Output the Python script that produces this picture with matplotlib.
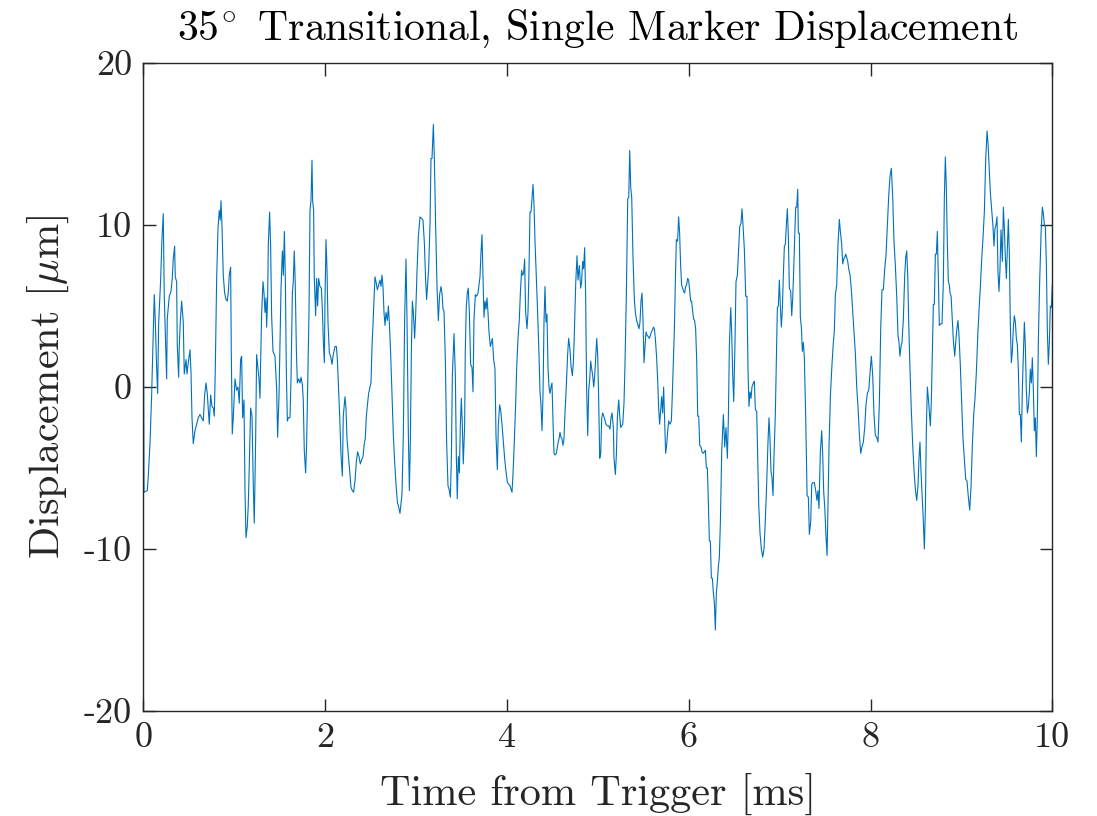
import numpy as np
import matplotlib
matplotlib.use("Agg")
import matplotlib.pyplot as plt

# Trace, split in quarters (time in ms, displacement in um)
t_q1 = [0.000, 0.008, 0.044, 0.055, 0.074, 0.092, 0.110, 0.121, 0.132, 0.147, 0.158, 0.169, 0.191, 0.206,
        0.220, 0.231, 0.250, 0.257, 0.264, 0.286, 0.305, 0.319, 0.330, 0.345, 0.352, 0.367, 0.374, 0.389,
        0.396, 0.407, 0.422, 0.440, 0.451, 0.470, 0.481, 0.495, 0.514, 0.525, 0.536, 0.550, 0.569, 0.587,
        0.605, 0.624, 0.642, 0.660, 0.675, 0.690, 0.704, 0.726, 0.741, 0.756, 0.770, 0.781, 0.792, 0.807,
        0.822, 0.836, 0.847, 0.855, 0.866, 0.880, 0.895, 0.910, 0.924, 0.935, 0.946, 0.961, 0.968, 0.979,
        0.990, 1.009, 1.027, 1.042, 1.056, 1.071, 1.082, 1.093, 1.108, 1.119, 1.130, 1.144, 1.155, 1.166,
        1.181, 1.196, 1.210, 1.221, 1.236, 1.247, 1.262, 1.273, 1.284, 1.288, 1.302, 1.317, 1.328, 1.339,
        1.350, 1.357, 1.368, 1.376, 1.390, 1.401, 1.412, 1.427, 1.449, 1.467, 1.478, 1.493, 1.504, 1.515,
        1.530, 1.541, 1.552, 1.563, 1.574, 1.585, 1.596, 1.614, 1.625, 1.640, 1.650, 1.661, 1.672, 1.684,
        1.695, 1.709, 1.724, 1.735, 1.750, 1.760, 1.771, 1.786, 1.797, 1.808, 1.823, 1.834, 1.845, 1.856,
        1.863, 1.874, 1.881, 1.896, 1.907, 1.918, 1.929, 1.944, 1.959, 1.970, 1.981, 1.992, 1.999, 2.010,
        2.021, 2.032, 2.047, 2.061, 2.076, 2.087, 2.098, 2.109, 2.124, 2.135, 2.146, 2.160, 2.175, 2.190,
        2.200, 2.219, 2.230, 2.241, 2.256, 2.270, 2.285, 2.300, 2.314, 2.329, 2.344, 2.358, 2.373, 2.388,
        2.402, 2.417, 2.431, 2.442, 2.453, 2.464, 2.479, 2.494]
d_q1 = [8.6, -6.5, -6.4, -5.5, -3.5, -0.5, 3.5, 5.7, 4.1, 1.2, -0.4, 3.9, 6.6, 9.2,
        10.7, 5.6, 1.8, 0.5, 4.2, 5.6, 5.9, 6.7, 7.9, 8.7, 6.8, 6.5, 2.6, 0.6,
        2.5, 4.0, 5.3, 4.0, 0.8, 1.7, 0.8, 1.5, 2.3, 0.9, -1.9, -3.5, -2.7, -2.3,
        -1.9, -1.7, -1.9, -2.1, -0.5, 0.25, -0.4, -2.3, -0.5, -1.2, -1.3, -1.8, 1.0, 6.6,
        9.8, 10.9, 10.3, 11.5, 9.9, 6.9, 5.8, 5.4, 5.3, 5.8, 6.9, 7.4, 2.3, -2.9,
        -1.9, 0.5, -0.2, 0.0, -1.0, 1.7, 1.9, -1.9, -0.8, -6.4, -9.3, -8.6, -7.3, -4.9,
        -1.3, -1.8, -6.0, -8.4, -3.3, 2.0, 1.1, 0.5, -0.7, 0.7, 4.5, 6.5, 5.8, 4.6,
        5.5, 3.7, 5.5, 8.9, 10.8, 8.7, 4.4, 2.2, 1.9, -0.1, -3.1, -0.6, 2.8, 6.0,
        8.4, 6.9, 9.6, 6.6, 0.9, -2.1, -1.9, -1.9, 0.5, 5.8, 6.5, 8.4, 6.3, 2.3,
        0.25, 0.5, 0.25, 0.6, 0.15, -0.8, -3.9, -5.3, -3.5, -0.2, 4.6, 10.9, 11.5, 14.0,
        11.5, 10.9, 6.8, 4.4, 6.7, 5.0, 6.7, 6.2, 6.1, 4.8, 2.8, 1.5, 5.3, 9.1,
        7.3, 4.0, 2.1, 1.9, 1.4, 1.9, 2.2, 2.5, 2.5, 1.7, 0.25, -1.7, -4.2, -5.5,
        -1.8, -0.6, -1.3, -3.2, -4.2, -5.2, -6.2, -6.4, -6.5, -5.8, -4.6, -4.0, -4.3, -4.75,
        -4.5, -4.3, -3.5, -3.2, -1.9, -1.2, -0.4, 0.0]

t_q2 = [2.505, 2.516, 2.527, 2.538, 2.549, 2.560, 2.575, 2.589, 2.604, 2.615, 2.626, 2.637, 2.648, 2.659,
        2.670, 2.685, 2.696, 2.707, 2.721, 2.736, 2.751, 2.765, 2.780, 2.795, 2.809, 2.824, 2.835, 2.846,
        2.861, 2.875, 2.890, 2.901, 2.916, 2.927, 2.938, 2.949, 2.960, 2.971, 2.985, 2.996, 3.011, 3.026,
        3.044, 3.062, 3.077, 3.092, 3.106, 3.117, 3.128, 3.139, 3.154, 3.165, 3.176, 3.191, 3.202, 3.216,
        3.231, 3.246, 3.260, 3.275, 3.286, 3.297, 3.308, 3.323, 3.337, 3.352, 3.367, 3.378, 3.389, 3.400,
        3.418, 3.433, 3.444, 3.454, 3.466, 3.477, 3.488, 3.499, 3.510, 3.520, 3.535, 3.542, 3.553, 3.564,
        3.575, 3.587, 3.601, 3.616, 3.627, 3.638, 3.653, 3.667, 3.682, 3.693, 3.704, 3.715, 3.726, 3.737,
        3.748, 3.759, 3.770, 3.781, 3.792, 3.803, 3.818, 3.829, 3.840, 3.854, 3.869, 3.880, 3.895, 3.906,
        3.920, 3.931, 3.946, 3.961, 3.975, 3.990, 4.005, 4.019, 4.034, 4.045, 4.056, 4.067, 4.082, 4.096,
        4.107, 4.122, 4.137, 4.148, 4.162, 4.173, 4.184, 4.195, 4.206, 4.221, 4.232, 4.243, 4.254, 4.265,
        4.276, 4.287, 4.298, 4.309, 4.324, 4.338, 4.353, 4.364, 4.375, 4.386, 4.397, 4.408, 4.419, 4.430,
        4.441, 4.452, 4.463, 4.474, 4.485, 4.496, 4.507, 4.518, 4.529, 4.544, 4.558, 4.573, 4.584, 4.595,
        4.606, 4.617, 4.628, 4.639, 4.653, 4.668, 4.679, 4.694, 4.705, 4.720, 4.731, 4.742, 4.757, 4.771,
        4.782, 4.797, 4.811, 4.822, 4.833, 4.844, 4.855, 4.866, 4.877, 4.889, 4.900, 4.911, 4.922, 4.933,
        4.944, 4.955, 4.966, 4.977, 4.988, 4.999]
d_q2 = [0.25, 2.5, 3.8, 5.4, 6.8, 6.5, 6.0, 6.3, 6.6, 6.2, 6.9, 6.2, 4.6, 3.8,
        4.6, 4.1, 5.0, 4.0, 2.1, -0.5, -3.0, -4.6, -6.0, -7.1, -7.4, -7.8, -7.2, -6.6,
        -2.8, 4.2, 7.9, 4.2, -2.9, -6.4, -3.4, 2.2, 5.3, 4.6, 3.0, 4.4, 7.1, 9.3,
        10.5, 10.4, 10.3, 8.9, 6.6, 5.4, 6.3, 7.3, 10.0, 14.1, 14.1, 16.2, 14.1, 10.0,
        6.2, 4.1, 5.7, 6.2, 5.8, 4.8, 4.7, 1.7, -3.4, -6.1, -6.4, -6.8, -4.4, 0.7,
        3.3, 0.7, -4.3, -6.9, -4.3, -5.3, -2.3, -0.7, -2.4, -4.75, -2.4, 2.2, 4.9, 5.8,
        6.1, 4.6, 1.4, 1.2, -0.3, 4.2, 5.7, 5.6, 5.8, 6.3, 6.8, 8.3, 9.4, 6.9,
        4.3, 5.3, 4.8, 5.5, 4.6, 3.4, 2.5, 2.75, 3.0, 1.7, 1.1, -3.0, -5.1, -2.3,
        -1.1, -1.4, -2.3, -3.4, -4.4, -5.2, -5.9, -6.0, -6.1, -6.3, -6.5, -5.4, -3.3, -1.1,
        1.1, 3.0, 4.2, 5.8, 7.2, 6.9, 7.0, 7.9, 4.6, 3.6, 4.6, 7.2, 10.8, 10.8,
        11.6, 12.5, 11.3, 9.0, 6.7, 4.6, 2.0, -0.3, -1.1, -2.7, -0.5, 4.0, 6.2, 4.0,
        4.5, 1.2, 0.0, -0.4, 0.0, 0.25, -2.1, -4.1, -4.2, -4.1, -3.6, -3.2, -2.8, -3.1,
        -3.2, -3.6, -3.2, -1.6, 0.0, 2.0, 3.0, 2.3, 1.3, 0.7, 1.5, 3.3, 6.4, 8.1,
        6.6, 7.5, 6.1, 6.5, 7.75, 7.3, 8.6, 5.7, -0.1, -3.0, -0.2, 0.5, 1.6, 1.1,
        0.7, 0.0, 0.7, 1.9, 3.0, 1.9]

t_q3 = [5.010, 5.021, 5.032, 5.043, 5.054, 5.065, 5.076, 5.090, 5.105, 5.120, 5.134, 5.145, 5.156, 5.171,
        5.178, 5.193, 5.204, 5.215, 5.230, 5.241, 5.252, 5.263, 5.274, 5.288, 5.299, 5.314, 5.329, 5.340,
        5.351, 5.362, 5.373, 5.387, 5.402, 5.413, 5.427, 5.442, 5.453, 5.464, 5.475, 5.486, 5.497, 5.508,
        5.519, 5.530, 5.541, 5.556, 5.567, 5.578, 5.589, 5.600, 5.611, 5.622, 5.633, 5.647, 5.658, 5.669,
        5.680, 5.691, 5.702, 5.713, 5.724, 5.735, 5.746, 5.757, 5.769, 5.780, 5.794, 5.809, 5.820, 5.831,
        5.842, 5.853, 5.864, 5.878, 5.889, 5.900, 5.911, 5.922, 5.933, 5.944, 5.955, 5.966, 5.977, 5.988,
        5.999, 6.010, 6.021, 6.032, 6.043, 6.054, 6.065, 6.076, 6.088, 6.099, 6.110, 6.121, 6.135, 6.146,
        6.161, 6.172, 6.183, 6.194, 6.205, 6.216, 6.227, 6.238, 6.249, 6.260, 6.271, 6.282, 6.293, 6.304,
        6.315, 6.326, 6.337, 6.348, 6.363, 6.381, 6.396, 6.410, 6.425, 6.436, 6.447, 6.462, 6.473, 6.484,
        6.495, 6.509, 6.520, 6.535, 6.546, 6.561, 6.575, 6.586, 6.597, 6.612, 6.627, 6.641, 6.652, 6.663,
        6.674, 6.685, 6.696, 6.711, 6.722, 6.733, 6.748, 6.759, 6.770, 6.784, 6.799, 6.814, 6.828, 6.843,
        6.858, 6.872, 6.883, 6.894, 6.905, 6.916, 6.927, 6.938, 6.953, 6.964, 6.975, 6.986, 6.997, 7.008,
        7.019, 7.030, 7.041, 7.052, 7.063, 7.074, 7.085, 7.096, 7.107, 7.122, 7.133, 7.144, 7.155, 7.166,
        7.177, 7.188, 7.199, 7.206, 7.217, 7.228, 7.239, 7.250, 7.261, 7.272, 7.287, 7.302, 7.316, 7.327,
        7.342, 7.353, 7.367, 7.382, 7.397, 7.411, 7.422, 7.433, 7.448, 7.463, 7.474, 7.485]
d_q3 = [-0.9, -4.4, -4.1, -1.9, -1.6, -1.8, -2.0, -2.3, -2.4, -2.4, -2.6, -1.9, -1.6, -2.5,
        -4.4, -5.4, -4.2, -1.9, -0.8, -1.8, -2.5, -2.4, -2.3, -1.0, 1.4, 5.7, 11.6, 11.7,
        14.6, 12.3, 11.7, 8.0, 5.4, 4.6, 4.1, 3.8, 3.6, 4.0, 5.3, 5.8, 4.2, 1.5,
        2.5, 3.4, 3.2, 3.1, 3.0, 3.2, 3.4, 3.5, 3.7, 3.6, 3.0, 1.8, 0.5, -1.3,
        -2.3, -1.4, -0.6, -1.6, 0.0, -2.0, -4.1, -3.6, -2.7, -2.1, -2.3, -2.1, -0.4, 1.6,
        3.5, 6.5, 9.1, 9.0, 10.5, 9.5, 7.5, 6.3, 6.1, 5.9, 5.8, 6.2, 6.3, 6.7,
        6.6, 6.0, 5.3, 5.3, 4.7, 4.2, 4.1, 3.6, 1.6, -1.8, -1.8, -3.6, -3.7, -4.0,
        -4.1, -4.0, -3.9, -5.0, -5.0, -7.1, -9.5, -9.5, -11.8, -11.8, -12.7, -13.3, -15.0, -12.7,
        -12.0, -11.1, -10.5, -8.4, -4.0, -1.7, -3.7, -2.5, -4.4, -2.0, 2.5, 4.9, 3.3, 0.7,
        -0.9, 2.75, 6.5, 6.9, 8.2, 9.9, 10.1, 11.0, 10.0, 8.5, 5.6, 5.6, 1.1, -1.2,
        -0.3, -0.7, 0.0, 0.25, 0.35, -1.4, -1.5, -4.5, -7.25, -9.0, -10.0, -10.5, -10.0, -8.2,
        -5.9, -3.4, -1.9, -3.2, -5.2, -5.6, -6.7, -4.3, -1.6, 1.7, 4.9, 5.0, 6.6, 5.0,
        3.7, 4.8, 6.9, 8.7, 8.8, 10.0, 11.0, 9.3, 6.1, 5.9, 4.4, 5.5, 7.25, 9.3,
        11.1, 11.1, 12.2, 9.5, 9.5, 4.3, 3.7, 2.2, 2.75, 1.8, -1.9, -6.7, -6.8, -9.1,
        -8.3, -6.0, -5.9, -5.9, -6.4, -7.0, -6.4, -7.5, -4.0, -2.7, -4.2, -6.5]

t_q4 = [7.496, 7.511, 7.522, 7.529, 7.544, 7.559, 7.573, 7.588, 7.602, 7.613, 7.628, 7.642, 7.657, 7.668,
        7.683, 7.694, 7.705, 7.716, 7.727, 7.738, 7.749, 7.760, 7.775, 7.789, 7.804, 7.818, 7.833, 7.848,
        7.862, 7.877, 7.892, 7.906, 7.921, 7.936, 7.950, 7.965, 7.980, 7.994, 8.009, 8.024, 8.038, 8.053,
        8.068, 8.082, 8.097, 8.112, 8.126, 8.141, 8.156, 8.170, 8.185, 8.200, 8.214, 8.229, 8.244, 8.258,
        8.273, 8.288, 8.302, 8.313, 8.324, 8.335, 8.346, 8.361, 8.376, 8.387, 8.398, 8.409, 8.420, 8.434,
        8.449, 8.464, 8.478, 8.493, 8.508, 8.522, 8.533, 8.544, 8.555, 8.566, 8.581, 8.592, 8.603, 8.614,
        8.625, 8.636, 8.647, 8.658, 8.669, 8.680, 8.691, 8.702, 8.713, 8.724, 8.735, 8.746, 8.757, 8.772,
        8.786, 8.801, 8.812, 8.823, 8.834, 8.845, 8.856, 8.867, 8.875, 8.886, 8.897, 8.911, 8.926, 8.937,
        8.948, 8.962, 8.973, 8.988, 9.003, 9.017, 9.032, 9.047, 9.061, 9.076, 9.091, 9.105, 9.120, 9.135,
        9.149, 9.164, 9.179, 9.193, 9.208, 9.223, 9.237, 9.252, 9.267, 9.282, 9.293, 9.303, 9.318, 9.333,
        9.347, 9.358, 9.369, 9.380, 9.391, 9.402, 9.413, 9.424, 9.435, 9.450, 9.461, 9.472, 9.483, 9.494,
        9.505, 9.516, 9.527, 9.538, 9.549, 9.560, 9.571, 9.582, 9.593, 9.604, 9.615, 9.626, 9.637, 9.648,
        9.659, 9.670, 9.681, 9.692, 9.703, 9.714, 9.725, 9.736, 9.747, 9.758, 9.769, 9.780, 9.791, 9.802,
        9.813, 9.824, 9.835, 9.846, 9.861, 9.876, 9.890, 9.901, 9.912, 9.923, 9.934, 9.945, 9.956, 9.967,
        9.978, 9.989, 10.000]
d_q4 = [-7.4, -9.3, -10.4, -8.1, -3.5, -0.5, 1.1, 2.5, 3.5, 5.7, 6.3, 8.8, 10.35, 9.6,
        8.8, 7.6, 7.9, 8.0, 8.2, 8.0, 7.75, 7.3, 6.9, 6.0, 4.6, 3.4, 2.1, 0.0,
        -1.2, -2.9, -4.1, -3.7, -3.4, -2.5, -1.1, -0.4, -0.2, 0.8, 1.9, 0.7, -1.7, -3.0,
        -3.1, -3.4, -1.0, 3.6, 6.0, 6.0, 7.3, 8.1, 9.9, 11.8, 13.0, 13.5, 11.7, 9.0,
        7.5, 5.6, 3.2, 2.75, 1.9, 2.5, 2.75, 4.2, 6.9, 8.0, 8.4, 6.9, 3.9, 1.1,
        -1.5, -3.6, -5.1, -6.3, -7.0, -6.1, -4.4, -3.4, -5.2, -6.5, -8.3, -10.0, -7.6, -2.6,
        0.0, -0.7, -1.6, -2.4, -0.8, 2.1, 5.1, 5.1, 8.2, 8.2, 9.6, 6.6, 3.8, 3.9,
        3.9, 6.5, 11.7, 14.2, 12.3, 8.8, 6.5, 6.3, 5.8, 5.6, 4.4, 2.9, 1.9, 2.75,
        3.5, 4.1, 3.2, 1.3, -1.0, -3.2, -4.5, -5.7, -5.8, -6.8, -7.6, -6.2, -3.6, -1.7,
        -0.7, 0.9, 3.1, 4.7, 6.2, 7.9, 9.2, 10.8, 14.1, 15.8, 15.0, 13.75, 12.0, 10.9,
        9.9, 8.7, 9.8, 10.0, 10.5, 7.1, 5.9, 7.25, 9.7, 7.75, 11.1, 9.8, 8.0, 6.7,
        8.6, 10.35, 8.2, 3.8, 1.5, 2.2, 3.7, 4.4, 4.0, 3.0, 2.6, 1.1, -1.7, -1.7,
        -3.4, -0.1, 2.0, 4.0, 2.5, -0.2, -1.6, -1.2, -0.3, 1.1, 0.25, 1.8, -0.2, -2.7,
        -1.9, -4.3, -1.9, 2.9, 6.6, 9.5, 11.1, 10.7, 10.0, 9.9, 7.6, 3.5, 1.4, 2.75,
        5.0, 4.9, 6.3]

x_ticks = [0, 2, 4, 6, 8, 10]
y_ticks = [-20, -10, 0, 10, 20]
y_tick_labels = ["-20", "-10", "0", "10", "20"]

title = r"$35^{\!\circ}$ Transitional, Single Marker Displacement"
x_label = "Time from Trigger [ms]"
y_label = r"Displacement [$\mu$m]"

plt.rcParams["font.family"] = ["cmr10", "DejaVu Serif"]
plt.rcParams["mathtext.fontset"] = "cm"
plt.rcParams["axes.unicode_minus"] = False

time_ms = np.concatenate([t_q1, t_q2, t_q3, t_q4])
disp_um = np.concatenate([d_q1, d_q2, d_q3, d_q4])

fig = plt.figure(figsize=(10.97, 8.16), dpi=100)
ax = fig.add_axes([0.1306, 0.1287, 0.8287, 0.7941])

ax.plot(time_ms, disp_um, color="#0072BD", linewidth=0.8)

ax.set_xlim(0, 10)
ax.set_ylim(-20, 20)
ax.set_xticks(x_ticks)
ax.set_xticklabels([str(v) for v in x_ticks])
ax.set_yticks(y_ticks)
ax.set_yticklabels(y_tick_labels)

edge = "#262626"
for side in ax.spines.values():
    side.set_color(edge)
    side.set_linewidth(1.0)
ax.tick_params(direction="in", length=9, width=1.0, color=edge, labelcolor=edge,
               labelsize=26, top=True, right=True, pad=8)

ax.set_title(title, fontsize=30, color="black", pad=17)
ax.set_xlabel(x_label, fontsize=30.5, color=edge, labelpad=14)
ax.set_ylabel(y_label, fontsize=30.5, color=edge, labelpad=9)

fig.savefig("out.png", dpi=100)
